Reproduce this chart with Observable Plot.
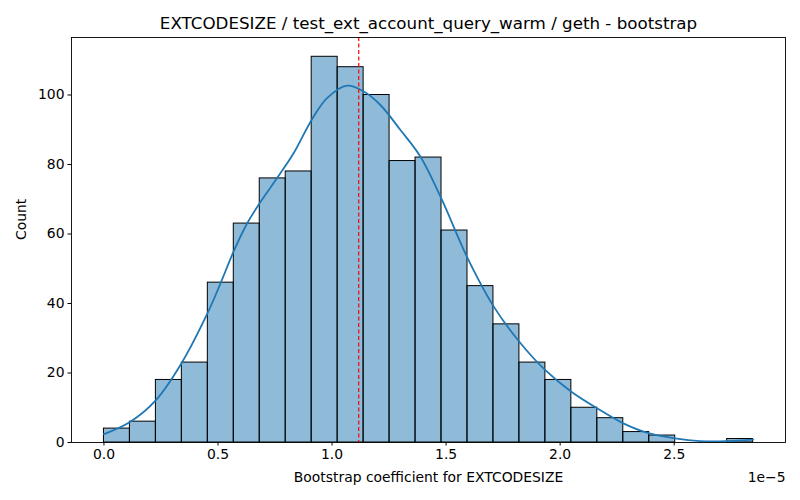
<!DOCTYPE html>
<html>
<head>
<meta charset="utf-8">
<script src="https://cdn.jsdelivr.net/npm/d3@7"></script>
<script src="https://cdn.jsdelivr.net/npm/@observablehq/plot@0.6"></script>
<style>
  html, body { margin: 0; padding: 0; background: #fff; }
  #chart svg { display: block; overflow: visible; }
</style>
</head>
<body>
<div id="chart"></div>
<script>
const title = "EXTCODESIZE / test_ext_account_query_warm / geth - bootstrap";
const xLabel = "Bootstrap coefficient for EXTCODESIZE";
const yLabel = "Count";
const offsetLabel = "1e\u22125";

// bin edges (units of 1e-5)
const binEdges = [0, 0.1138, 0.2277, 0.3415, 0.4554, 0.5692, 0.6830, 0.7969, 0.9107, 1.0246,
  1.1384, 1.2522, 1.3661, 1.4799, 1.5938, 1.7076, 1.8214, 1.9353, 2.0491, 2.1630,
  2.2768, 2.3906, 2.5045, 2.6183, 2.7322, 2.8460];
const counts = [4, 6, 18, 23, 46, 63, 76, 78, 111, 108, 100, 81, 82, 61, 45, 34, 23, 18, 10, 7, 3, 2, 0, 0, 1];

// KDE curve
const kdeX = [0, 0.114, 0.228, 0.340, 0.454, 0.511, 0.568, 0.628, 0.683, 0.759, 0.832, 0.911, 0.978,
  1.066, 1.139, 1.211, 1.299, 1.387, 1.482, 1.591, 1.709, 1.821, 1.935, 2.049, 2.163, 2.277,
  2.391, 2.504, 2.612, 2.700, 2.846];
const kdeY = [2.4, 5.9, 12.2, 22.8, 37.2, 45.8, 54.9, 63.1, 68.9, 76.1, 83.3, 92.9, 99.1,
  102.7, 101.0, 97.2, 90.0, 82.3, 69.8, 53.5, 39.1, 29.0, 20.8, 14.6, 9.8, 5.5,
  2.6, 1.2, 0.4, 0.3, 0.8];

const meanValue = [1.117];

const xTicks = [0, 0.5, 1.0, 1.5, 2.0, 2.5];
const yTicks = [0, 20, 40, 60, 80, 100];
const xDomain = [-0.1423, 2.988];
const yDomain = [0, 116.55];

const bins = counts.map((c, i) => ({x1: binEdges[i], x2: binEdges[i + 1], count: c})).filter(d => d.count > 0);
const kde = kdeX.map((x, i) => ({x, y: kdeY[i]}));

const font = "DejaVu Sans, sans-serif";

const chart = Plot.plot({
  width: 800,
  height: 500,
  marginLeft: 71,
  marginRight: 15,
  marginTop: 37,
  marginBottom: 58,
  style: {fontFamily: font, fontSize: "13.9px", color: "black", background: "white"},
  x: {domain: xDomain, ticks: xTicks, tickFormat: d3.format(".1f"), tickSize: 3.5, tickPadding: 3.5, label: null},
  y: {domain: yDomain, ticks: yTicks, tickFormat: d3.format("d"), tickSize: 3.5, tickPadding: 3.5, label: null},
  marks: [
    Plot.rectY(bins, {x1: "x1", x2: "x2", y: "count", fill: "#1f77b4", fillOpacity: 0.5, stroke: "black", strokeWidth: 1, inset: 0}),
    Plot.line(kde, {x: "x", y: "y", stroke: "#1f77b4", strokeWidth: 1.8, curve: "catmull-rom"}),
    Plot.ruleX(meanValue, {stroke: "red", strokeWidth: 1.2, strokeDasharray: "4,2.5"}),
    Plot.frame({stroke: "black", strokeWidth: 0.9}),
    Plot.axisX({ticks: xTicks, tickFormat: d3.format(".1f"), tickSize: 3.5, tickPadding: 3.5, label: null, fontSize: 13.9}),
    Plot.axisY({ticks: yTicks, tickFormat: d3.format("d"), tickSize: 3.5, tickPadding: 3.5, label: null, fontSize: 13.9}),
    Plot.text([title], {frameAnchor: "top", lineAnchor: "middle", dy: -14, fontSize: 16.7, fill: "black"}),
    Plot.text([xLabel], {frameAnchor: "bottom", lineAnchor: "middle", dy: 35, fontSize: 13.9, fill: "black"}),
    Plot.text([offsetLabel], {frameAnchor: "bottom-right", lineAnchor: "middle", dy: 35, textAnchor: "end", fontSize: 13.9, fill: "black"}),
    Plot.text([yLabel], {frameAnchor: "left", lineAnchor: "middle", dx: -50, rotate: -90, fontSize: 13.9, fill: "black"})
  ]
});
document.getElementById("chart").appendChild(chart);
</script>
</body>
</html>
